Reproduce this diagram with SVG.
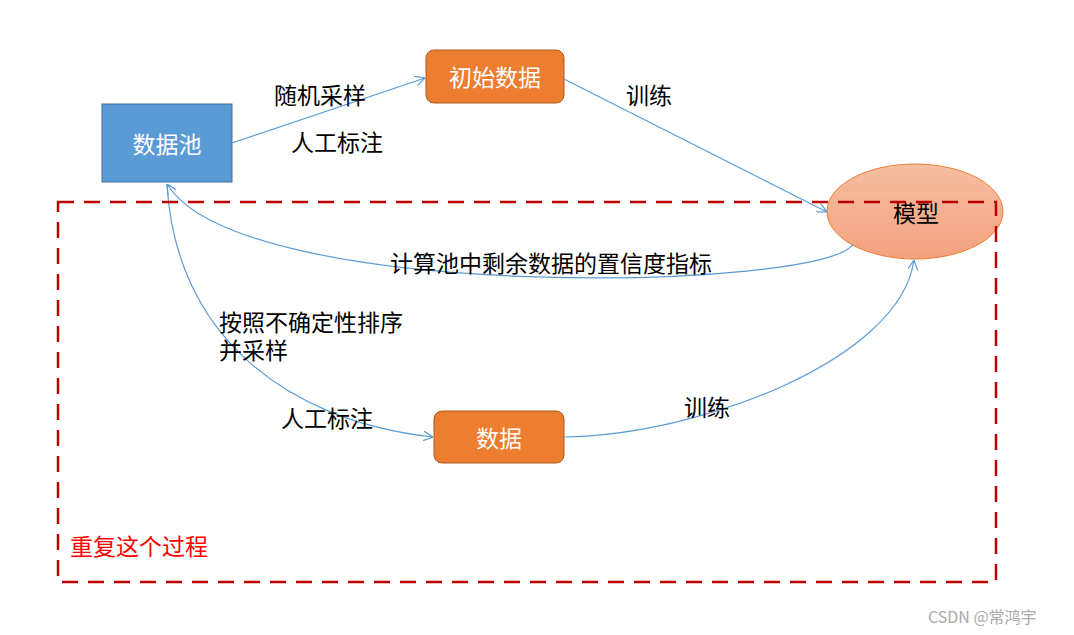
<svg xmlns="http://www.w3.org/2000/svg" width="1074" height="635" viewBox="0 0 1074 635">
<style>
.lbl{font-family:"Noto Sans CJK SC","Liberation Sans",sans-serif;font-size:23px;fill:#000}
.wt{font-family:"Noto Sans CJK SC","Liberation Sans",sans-serif;font-size:23px;fill:#fff;text-anchor:middle;dominant-baseline:central}
.conn{fill:none;stroke:#5b9bd5;stroke-width:1.2}
.orange{fill:#ed7d31;stroke:#ae5a21;stroke-width:1}
</style>
<defs>
<marker id="arr" viewBox="0 0 10 10" refX="10" refY="5" markerWidth="10" markerHeight="10" markerUnits="userSpaceOnUse" orient="auto">
<path d="M0,0 L10,5 L0,10" fill="none" stroke="#5b9bd5" stroke-width="1.2"/>
</marker>
<linearGradient id="eg" x1="0" y1="0" x2="0" y2="1">
<stop offset="0" stop-color="#f6bea3"/>
<stop offset="1" stop-color="#f4a27e"/>
</linearGradient>
</defs>
<rect width="1074" height="635" fill="#fff"/>
<g id="pool">
<rect x="102" y="104" width="130" height="78" fill="#5b9bd5" stroke="#41719c" stroke-width="1"/>
<text class="wt" x="167" y="143">数据池</text>
</g>
<g id="initdata">
<rect class="orange" x="426" y="50" width="138" height="53" rx="8"/>
<text class="wt" x="495" y="76">初始数据</text>
</g>
<g id="model">
<ellipse cx="915" cy="211.5" rx="88" ry="47.5" fill="url(#eg)" stroke="#ed7d31" stroke-width="1"/>
<text x="916" y="212" font-family="Noto Sans CJK SC, Liberation Sans, sans-serif" font-size="23" text-anchor="middle" dominant-baseline="central" fill="#000">模型</text>
</g>
<g id="data">
<rect class="orange" x="434" y="411" width="130" height="52" rx="8"/>
<text class="wt" x="499" y="437">数据</text>
</g>
<g id="connectors">
<path class="conn" d="M232,143 L425,78" marker-end="url(#arr)"/>
<path class="conn" d="M564,79 L827,212" marker-end="url(#arr)"/>
<path class="conn" d="M853,244 C830,290 240,305 167,184" marker-end="url(#arr)"/>
<path class="conn" d="M167,184 C175,330 280,420 433,437" marker-end="url(#arr)"/>
<path class="conn" d="M564,437 C700,435 900,360 914,260" marker-end="url(#arr)"/>
</g>
<g id="labels">
<text class="lbl" x="274" y="104">随机采样</text>
<text class="lbl" x="291" y="151">人工标注</text>
<text class="lbl" x="626" y="104">训练</text>
<text class="lbl" x="390" y="272">计算池中剩余数据的置信度指标</text>
<text class="lbl" x="219" y="331">按照不确定性排序<tspan x="219" dy="28">并采样</tspan></text>
<text class="lbl" x="281" y="427">人工标注</text>
<text class="lbl" x="684" y="416">训练</text>
</g>
<g id="repeat">
<rect x="58" y="202" width="938" height="380" fill="none" stroke="#c00000" stroke-width="2.5" stroke-dasharray="16,10"/>
<text x="70" y="555" font-family="Noto Sans CJK SC, Liberation Sans, sans-serif" font-size="23" fill="#ff0000">重复这个过程</text>
</g>
<text x="928" y="623" font-family="Noto Sans CJK SC, Liberation Sans, sans-serif" font-size="16" fill="#aaaaaa">CSDN @常鸿宇</text>
</svg>
